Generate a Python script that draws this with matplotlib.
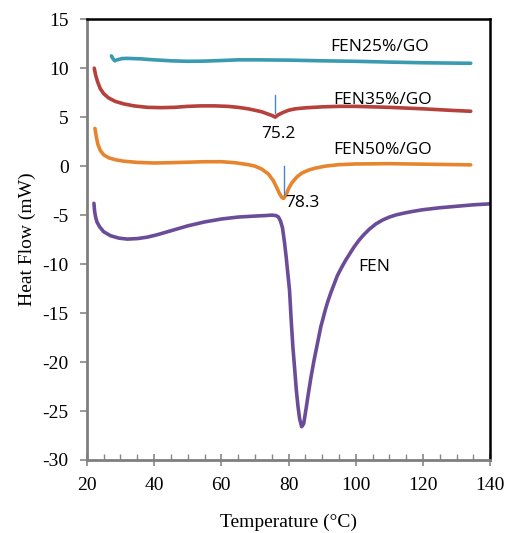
import matplotlib
matplotlib.use("Agg")
import matplotlib.pyplot as plt
from matplotlib.ticker import MultipleLocator

plt.rcParams["axes.unicode_minus"] = False

# ---- data ----
t25 = [27.3, 27.8, 28.3, 29.0, 30.5, 32, 36, 40, 45, 50, 55, 60, 65, 70, 80, 90, 100, 110, 120, 128, 134.2]
h25 = [11.25, 10.95, 10.75, 10.85, 10.98, 11.0, 10.95, 10.85, 10.75, 10.7, 10.72, 10.78, 10.85, 10.85, 10.82, 10.75, 10.7, 10.62, 10.55, 10.52, 10.5]

t35 = [22.2, 22.6, 23.2, 24, 25, 26.5, 28.5, 31, 34, 38, 42, 46, 50, 54, 58, 62, 65, 68, 70, 72, 74, 75.2, 76.0,
       77.0, 78.5, 80, 82, 85, 90, 95, 100, 110, 120, 128, 134.2]
h35 = [10.0, 9.3, 8.6, 7.9, 7.4, 6.95, 6.6, 6.35, 6.15, 6.0, 5.97, 6.0, 6.1, 6.15, 6.15, 6.1, 6.0, 5.85, 5.7, 5.55, 5.3, 5.15, 5.0,
       5.25, 5.5, 5.7, 5.85, 5.95, 6.05, 6.1, 6.1, 6.0, 5.85, 5.7, 5.6]

t50 = [22.4, 22.8, 23.3, 24, 25, 26.5, 28.5, 31, 35, 40, 45, 50, 55, 60, 64, 68, 70, 72, 74, 75.5, 76.5, 77.3, 78, 78.5,
       79.2, 80, 81, 82.5, 84, 86, 88, 91, 95, 100, 110, 120, 134.2]
h50 = [3.85, 3.0, 2.2, 1.6, 1.15, 0.85, 0.65, 0.5, 0.38, 0.32, 0.35, 0.4, 0.45, 0.45, 0.35, 0.15, 0.0, -0.3, -0.8, -1.5, -2.2, -2.8, -3.2, -3.3,
       -3.0, -2.3, -1.7, -1.1, -0.7, -0.4, -0.2, 0.0, 0.15, 0.22, 0.25, 0.2, 0.13]

tfen = [22.1, 22.3, 22.6, 23.0, 23.8, 25, 27, 29.5, 32, 35, 38, 41, 45, 50, 55, 60, 65, 70, 73, 75, 76.3, 77.0, 77.6,
        78.2, 78.8, 79.3, 79.8, 80.3, 80.8, 81.3, 81.8, 82.3, 82.8, 83.3, 83.9, 84.5, 85.2, 85.9, 86.7, 87.6, 88.6,
        89.6, 90.3, 91, 91.7, 92.5, 93.5, 94.5, 95.7, 97, 98.2, 99.5, 101, 102.4, 104, 106, 108, 110, 112, 114.3,
        117, 120, 125, 130, 135, 140]
hfen = [-3.8, -4.6, -5.2, -5.7, -6.2, -6.7, -7.1, -7.35, -7.45, -7.4, -7.25, -7.0, -6.6, -6.1, -5.7, -5.4, -5.2, -5.1, -5.05, -5.0, -5.05, -5.2, -5.6,
        -6.3, -7.8, -9.3, -11.0, -12.7, -15.8, -18.5, -20.6, -22.8, -24.5, -25.8, -26.6, -26.3, -24.8, -23.2, -21.5, -19.8, -18.1,
        -16.4, -15.5, -14.6, -13.8, -13.0, -12.1, -11.2, -10.4, -9.6, -8.95, -8.25, -7.55, -7.0, -6.45, -5.9, -5.5, -5.2, -4.98, -4.8,
        -4.62, -4.45, -4.25, -4.1, -3.95, -3.85]

series_names = ["FEN25%/GO", "FEN35%/GO", "FEN50%/GO", "FEN"]
peak_labels = ["75.2", "78.3"]
xticks = [20, 40, 60, 80, 100, 120, 140]
yticks = [15, 10, 5, 0, -5, -10, -15, -20, -25, -30]

fig = plt.figure(figsize=(5.08, 5.33), dpi=100)
ax = fig.add_axes([0.171, 0.137, 0.794, 0.827])

lw = 2.6
kw = dict(lw=lw, solid_capstyle="round", solid_joinstyle="round")
ax.plot(t25, h25, color="#3a9bb0", **kw)
ax.plot(t35, h35, color="#b5403c", **kw)
ax.plot(t50, h50, color="#e6852e", **kw)
ax.plot(tfen, hfen, color="#6b4c98", **kw)

# peak marker lines
ax.plot([76.0, 76.0], [7.3, 5.4], color="#4a85c8", lw=1.0)
ax.plot([78.7, 78.7], [0.05, -2.95], color="#4a85c8", lw=1.0)

lab_font = dict(family=["Open Sans", "DejaVu Sans"], fontsize=12.5, color="black")
ax.text(107.0, 12.2, series_names[0], ha="center", va="center", **lab_font)
ax.text(107.9, 6.7, series_names[1], ha="center", va="center", **lab_font)
ax.text(107.9, 1.6, series_names[2], ha="center", va="center", **lab_font)
ax.text(105.6, -10.3, series_names[3], ha="center", va="center", **lab_font)
ax.text(77.1, 3.3, peak_labels[0], ha="center", va="center", **lab_font)
ax.text(84.1, -3.8, peak_labels[1], ha="center", va="center", **lab_font)

ax.set_xlim(20, 140)
ax.set_ylim(-30, 15)
ax.set_xticks(xticks)
ax.set_yticks(yticks)
ax.xaxis.set_minor_locator(MultipleLocator(5))

serif = ["Liberation Serif", "DejaVu Serif"]
for lab in ax.get_xticklabels() + ax.get_yticklabels():
    lab.set_family(serif)
    lab.set_fontsize(14)

ax.tick_params(axis="x", which="major", direction="inout", length=9, width=1.2, color="#888888", pad=8)
ax.tick_params(axis="x", which="minor", direction="in", length=4, width=1.0, color="#888888")
ax.tick_params(axis="y", which="major", direction="out", length=5, width=1.2, color="#888888", pad=8)

ax.set_xlabel("Temperature (°C)", family=serif, fontsize=14, labelpad=14)
ax.set_ylabel("Heat Flow (mW)", family=serif, fontsize=14, labelpad=5)

for s in ["left", "bottom"]:
    ax.spines[s].set_color("#7f7f7f")
    ax.spines[s].set_linewidth(2.0)
for s in ["top", "right"]:
    ax.spines[s].set_color("black")
    ax.spines[s].set_linewidth(1.8)

fig.savefig("out.png", dpi=100)
